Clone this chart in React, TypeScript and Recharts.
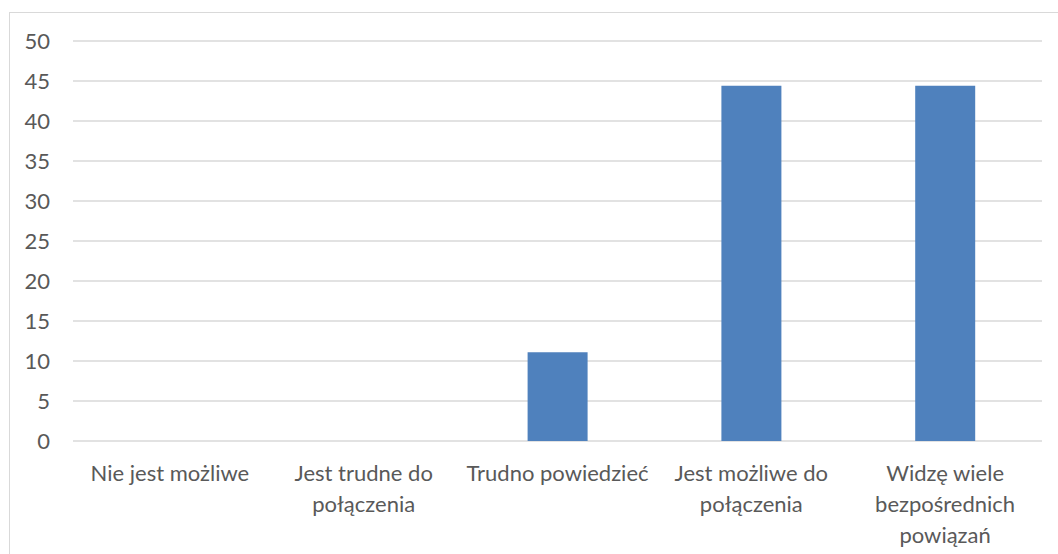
import React from "react";
import { BarChart, Bar, XAxis, YAxis, CartesianGrid } from "recharts";

const categories = [
  "Nie jest możliwe",
  "Jest trudne do\npołączenia",
  "Trudno powiedzieć",
  "Jest możliwe do\npołączenia",
  "Widzę wiele\nbezpośrednich\npowiązań",
];
const values = [0, 0, 11.1, 44.4, 44.4];
const yTicks = [0, 5, 10, 15, 20, 25, 30, 35, 40, 45, 50];

const data = categories.map((c, i) => ({ name: c, value: values[i] }));

const FONT = "Lato, 'Open Sans', sans-serif";
const TEXT = "#595959";

const XTick = (props: any) => {
  const { x, y, payload } = props;
  const lines = String(payload.value).split("\n");
  return (
    <g transform={`translate(${x},${y})`}>
      <text textAnchor="middle" fill={TEXT} fontSize={22} fontFamily={FONT}>
        {lines.map((l, i) => (
          <tspan key={i} x={0} dy={i === 0 ? 32 : 31}>
            {l}
          </tspan>
        ))}
      </text>
    </g>
  );
};

export default function App() {
  return (
    <div
      style={{
        position: "fixed",
        left: 0,
        top: 0,
        width: 1058,
        height: 554,
        overflow: "hidden",
        background: "#fff",
      }}
    >
      <div
        style={{
          position: "absolute",
          left: 9,
          top: 12,
          width: 1100,
          height: 600,
          border: "1px solid #d9d9d9",
          boxSizing: "border-box",
        }}
      />
      <div style={{ position: "absolute", left: 0, top: 0 }}>
        <BarChart
          width={1058}
          height={554}
          data={data}
          margin={{ top: 41, right: 16, left: 0, bottom: 0 }}
        >
          <CartesianGrid vertical={false} stroke="#d9d9d9" strokeWidth={1.5} />
          <XAxis
            dataKey="name"
            height={113}
            axisLine={false}
            tickLine={false}
            interval={0}
            tick={<XTick />}
          />
          <YAxis
            width={73}
            domain={[0, 50]}
            ticks={yTicks}
            axisLine={false}
            tickLine={false}
            tickMargin={17}
            interval={0}
            tick={{ fill: TEXT, fontSize: 22, fontFamily: FONT }}
          />
          <Bar dataKey="value" fill="#4F81BD" barSize={60} isAnimationActive={false} />
        </BarChart>
      </div>
    </div>
  );
}
